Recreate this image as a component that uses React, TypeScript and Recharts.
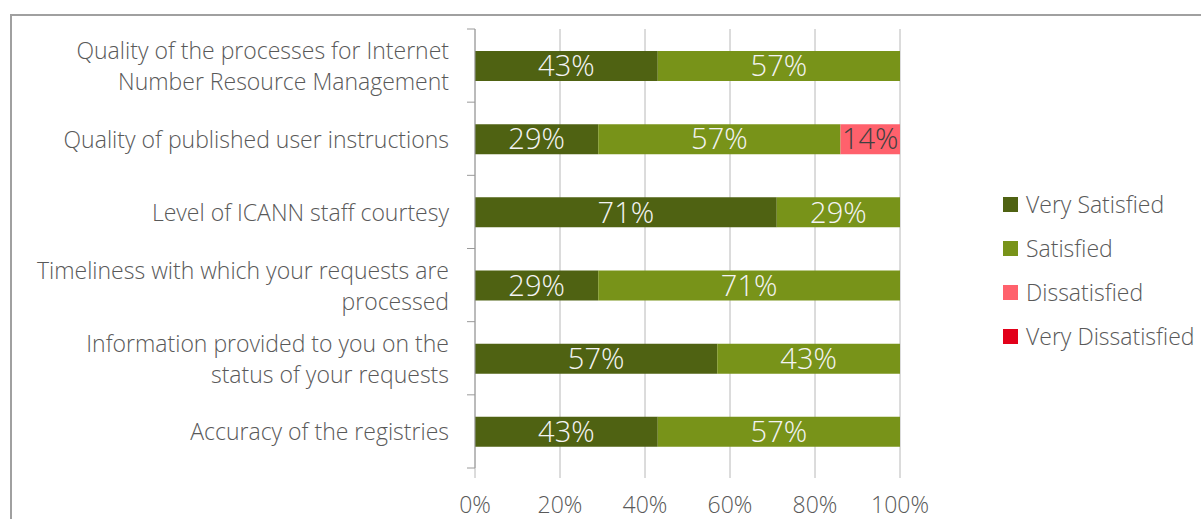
import React from "react";
import { Bar, BarChart, CartesianGrid, LabelList, Legend, XAxis, YAxis } from "recharts";

const categories = [
  "Quality of the processes for Internet\nNumber Resource Management",
  "Quality of published user instructions",
  "Level of ICANN staff courtesy",
  "Timeliness with which your requests are\nprocessed",
  "Information provided to you on the\nstatus of your requests",
  "Accuracy of the registries",
];
const seriesNames = ["Very Satisfied", "Satisfied", "Dissatisfied", "Very Dissatisfied"];
const verySatisfied = [43, 29, 71, 29, 57, 43];
const satisfied = [57, 57, 29, 71, 43, 57];
const dissatisfied = [0, 14, 0, 0, 0, 0];
const veryDissatisfied = [0, 0, 0, 0, 0, 0];
const xTicks = [0, 20, 40, 60, 80, 100];

const data = categories.map((name, i) => ({
  name,
  verySatisfied: verySatisfied[i],
  satisfied: satisfied[i],
  dissatisfied: dissatisfied[i],
  veryDissatisfied: veryDissatisfied[i],
}));

const W = 1201;
const H = 519;
const TOP = 29;
const BOTTOM = 51;
const PLOT_H = H - TOP - BOTTOM;
const BAND = PLOT_H / categories.length;
const FONT = "'Open Sans', sans-serif";
const TEXT = "#595959";
const AXIS = "#9a9a9a";

const pct = (v: any) => (v ? `${v}%` : "");

function CategoryTick(props: any) {
  const { x, y, payload, index } = props;
  const lines = String(payload.value).split("\n");
  const lh = 31;
  const y0 = y - ((lines.length - 1) * lh) / 2;
  const axisX = x + 26;
  return (
    <g>
      <line x1={axisX - 8} x2={axisX} y1={y - BAND / 2} y2={y - BAND / 2} stroke={AXIS} />
      {index === categories.length - 1 && (
        <line x1={axisX - 8} x2={axisX} y1={y + BAND / 2} y2={y + BAND / 2} stroke={AXIS} />
      )}
      <text x={x} y={y0} textAnchor="end" fill={TEXT} fontSize={23} fontWeight={300} fontFamily={FONT} dominantBaseline="central">
        {lines.map((l, i) => (
          <tspan key={i} x={x} dy={i === 0 ? 0 : lh}>
            {l}
          </tspan>
        ))}
      </text>
    </g>
  );
}

function LegendBox(props: any) {
  const items = [...(props.payload || [])].sort(
    (a: any, b: any) => seriesNames.indexOf(a.value) - seriesNames.indexOf(b.value)
  );
  return (
    <div style={{ fontFamily: FONT, fontWeight: 300, fontSize: 23, color: TEXT }}>
      {items.map((it: any) => (
        <div key={it.value} style={{ display: "flex", alignItems: "center", height: 44 }}>
          <span style={{ width: 15, height: 15, background: it.color, marginRight: 8, display: "inline-block" }} />
          <span>{it.value}</span>
        </div>
      ))}
    </div>
  );
}

export default function App() {
  return (
    <div style={{ position: "absolute", left: 0, top: 0, width: W, height: H, background: "#fff", overflow: "hidden" }}>
      <div
        style={{
          position: "absolute",
          left: 10,
          top: 14,
          width: W,
          height: H,
          borderTop: "2px solid #a0a0a0",
          borderLeft: "2px solid #a0a0a0",
        }}
      />
      <BarChart
        width={W}
        height={H}
        data={data}
        layout="vertical"
        margin={{ top: TOP, right: 301, bottom: 11, left: 0 }}
        barSize={30}
        style={{ position: "absolute", left: 0, top: 0 }}
      >
        <CartesianGrid horizontal={false} stroke="#b8b8b8" />
        <XAxis
          type="number"
          domain={[0, 100]}
          ticks={xTicks}
          tickFormatter={(v) => `${v}%`}
          axisLine={false}
          tickLine={{ stroke: "#b8b8b8" }}
          tickSize={10}
          tickMargin={19}
          height={40}
          tick={{ fill: TEXT, fontSize: 23, fontWeight: 300, fontFamily: FONT }}
          interval={0}
        />
        <YAxis
          type="category"
          dataKey="name"
          width={475}
          axisLine={{ stroke: AXIS }}
          tickLine={false}
          tickSize={0}
          tickMargin={26}
          tick={<CategoryTick />}
          interval={0}
        />
        <Legend
          layout="horizontal"
          verticalAlign="middle"
          align="center"
          itemSorter={null as any}
          wrapperStyle={{ left: 1003, top: 182, width: 200 }}
          content={<LegendBox />}
        />
        <Bar dataKey="verySatisfied" name={seriesNames[0]} stackId="a" fill="#4f6212" isAnimationActive={false}>
          <LabelList dataKey="verySatisfied" position="center" formatter={pct} fill="#f4f4f4" fontSize={29} fontWeight={300} fontFamily={FONT} />
        </Bar>
        <Bar dataKey="satisfied" name={seriesNames[1]} stackId="a" fill="#789319" isAnimationActive={false}>
          <LabelList dataKey="satisfied" position="center" formatter={pct} fill="#f4f4f4" fontSize={29} fontWeight={300} fontFamily={FONT} />
        </Bar>
        <Bar dataKey="dissatisfied" name={seriesNames[2]} stackId="a" fill="#ff616c" isAnimationActive={false}>
          <LabelList dataKey="dissatisfied" position="center" formatter={pct} fill="#404040" fontSize={29} fontWeight={300} fontFamily={FONT} />
        </Bar>
        <Bar dataKey="veryDissatisfied" name={seriesNames[3]} stackId="a" fill="#e2001a" isAnimationActive={false}>
          <LabelList dataKey="veryDissatisfied" position="center" formatter={pct} fill="#f4f4f4" fontSize={29} fontWeight={300} fontFamily={FONT} />
        </Bar>
      </BarChart>
    </div>
  );
}
